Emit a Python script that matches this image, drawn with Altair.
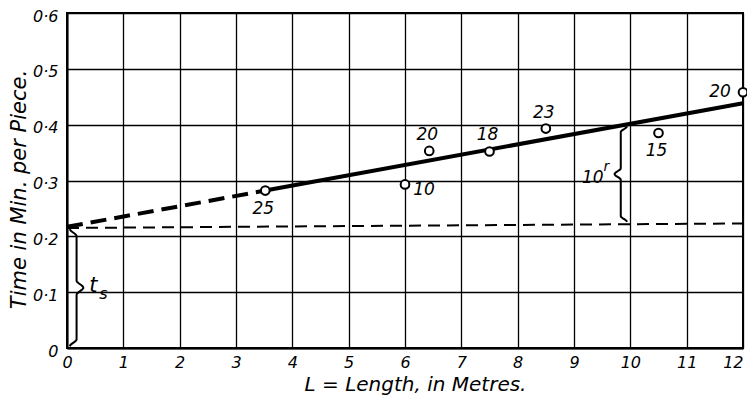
import altair as alt
import numpy as np
import pandas as pd

# ---- data ----
lengths = [3.52, 6.0, 6.43, 7.5, 8.5, 10.5, 12.0]
times = [0.282, 0.293, 0.353, 0.352, 0.393, 0.385, 0.458]
counts = ["25", "10", "20", "18", "23", "15", "20"]
label_side = ["below", "right", "above", "above", "above", "below", "left"]

# fitted line: dashed (extrapolated) part, then solid part
fit_dash_x = [0.0, 3.52]
fit_dash_y = [0.217, 0.282]
fit_solid_x = [3.52, 12.0]
fit_solid_y = [0.282, 0.4385]

# setting-up time line (t_s)
setup_x = [0.0, 12.0]
setup_y = [0.215, 0.223]

x_ticks = list(range(0, 13))
y_ticks = [0.0, 0.1, 0.2, 0.3, 0.4, 0.5, 0.6]

FONT = "DejaVu Sans"

pts = pd.DataFrame({"L": lengths, "T": times, "n": counts, "side": label_side})
dash_df = pd.DataFrame({"L": fit_dash_x, "T": fit_dash_y})
solid_df = pd.DataFrame({"L": fit_solid_x, "T": fit_solid_y})
setup_df = pd.DataFrame({"L": setup_x, "T": setup_y})


def brace(xc, y0, y1, width, direction, name, n=120):
    t = np.linspace(0.0, 1.0, n)
    u = np.where(t <= 0.5, t / 0.5, (1.0 - t) / 0.5)

    def ss(v):
        v = np.clip(v, 0.0, 1.0)
        return v * v * (3 - 2 * v)

    off = 0.5 * ss(u / 0.12) + 0.5 * ss((u - 0.88) / 0.12)
    xs = xc + direction * width * (off - 0.5)
    ys = y0 + (y1 - y0) * t
    return pd.DataFrame({"L": xs, "T": ys, "o": np.arange(n), "b": name})


brace_ts = brace(0.17, 0.003, 0.213, 0.24, 1, "ts")
brace_10 = brace(9.83, 0.226, 0.397, 0.22, -1, "tenr")
braces = pd.concat([brace_ts, brace_10], ignore_index=True)

xscale = alt.Scale(domain=[0, 12], nice=False, zero=False)
yscale = alt.Scale(domain=[0, 0.6], nice=False, zero=False)

x_axis = alt.Axis(
    values=x_ticks, grid=True, ticks=False, domain=True,
    title="L = Length, in Metres.",
    labelFont=FONT, labelFontStyle="italic", labelFontSize=16, labelColor="black",
    labelPadding=6, labelFlush=False, labelOverlap=False,
    labelAlign={"condition": {"test": "datum.value == 12", "value": "right"}, "value": "center"},
    titleFont=FONT, titleFontStyle="italic", titleFontWeight="normal", titleFontSize=20,
    titleColor="black", titleX=348, titleY=36, titleBaseline="middle", titleAlign="center",
)
y_axis = alt.Axis(
    values=y_ticks, grid=True, ticks=False, domain=True,
    title="Time in Min. per Piece.",
    labelExpr="datum.value == 0 ? '0' : replace(format(datum.value, '.1f'), '.', '·')",
    labelFont=FONT, labelFontStyle="italic", labelFontSize=16, labelColor="black",
    labelPadding=9, labelFlush=False, labelOverlap=False, labelOffset=3,
    titleFont=FONT, titleFontStyle="italic", titleFontWeight="normal", titleFontSize=21,
    titleColor="black", titleX=-48, titleY=176, titleBaseline="middle", titleAlign="center",
    titleAngle=270,
)


def X():
    return alt.X("L:Q", scale=xscale, axis=x_axis)


def Y():
    return alt.Y("T:Q", scale=yscale, axis=y_axis)


setup_line = alt.Chart(setup_df).mark_line(
    color="black", strokeWidth=2, strokeDash=[12, 7]
).encode(x=X(), y=Y())

dash_line = alt.Chart(dash_df).mark_line(
    color="black", strokeWidth=4, strokeDash=[16, 8]
).encode(x=X(), y=Y())

solid_line = alt.Chart(solid_df).mark_line(
    color="black", strokeWidth=4
).encode(x=X(), y=Y())

brace_lines = alt.Chart(braces).mark_line(
    color="black", strokeWidth=2
).encode(x=X(), y=Y(), order="o:Q", detail="b:N")

points = alt.Chart(pts).mark_point(
    shape="circle", size=75, filled=True, fill="white", stroke="black", strokeWidth=2, opacity=1
).encode(x=X(), y=Y())

offsets = {"below": (-2, 18), "right": (19, 6), "above": (-2, -16), "left": (-23, 0)}
label_layers = []
for side, (ddx, ddy) in offsets.items():
    label_layers.append(
        alt.Chart(pts).transform_filter(alt.datum.side == side).mark_text(
            font=FONT, fontStyle="italic", fontSize=17, color="black",
            dx=ddx, dy=ddy, align="center", baseline="middle",
        ).encode(x=X(), y=Y(), text="n:N")
    )

# brace annotations, anchored at the brace tips
ts_tip = pd.DataFrame({"L": [0.17 + 0.12], "T": [(0.003 + 0.213) / 2]})
tr_tip = pd.DataFrame({"L": [9.83 - 0.11], "T": [(0.226 + 0.397) / 2]})

t_text = alt.Chart(ts_tip).mark_text(
    font=FONT, fontStyle="italic", fontSize=21, color="black", align="left", baseline="middle",
    dx=6, dy=-2, text="t"
).encode(x=X(), y=Y())
s_text = alt.Chart(ts_tip).mark_text(
    font=FONT, fontStyle="italic", fontSize=16, color="black", align="left", baseline="middle",
    dx=16, dy=6, text="s"
).encode(x=X(), y=Y())
ten_text = alt.Chart(tr_tip).mark_text(
    font=FONT, fontStyle="italic", fontSize=17, color="black", align="right", baseline="middle",
    dx=-11, dy=4, text="10"
).encode(x=X(), y=Y())
r_text = alt.Chart(tr_tip).mark_text(
    font=FONT, fontStyle="italic", fontSize=14, color="black", align="left", baseline="middle",
    dx=-11, dy=-7, text="r"
).encode(x=X(), y=Y())

chart = alt.layer(
    setup_line, dash_line, solid_line, brace_lines, points, *label_layers,
    t_text, s_text, ten_text, r_text,
).properties(
    width=676, height=335,
    autosize=alt.AutoSizeParams(type="none"),
    padding={"left": 59, "top": 5, "right": 4, "bottom": 47},
    background="white",
).configure_view(
    stroke="black", strokeWidth=2
).configure_axis(
    gridColor="black", gridWidth=1.3, gridOpacity=1,
    domainColor="black", domainWidth=2,
)

chart.save("out.html", embed_options={"renderer": "svg", "actions": False})
